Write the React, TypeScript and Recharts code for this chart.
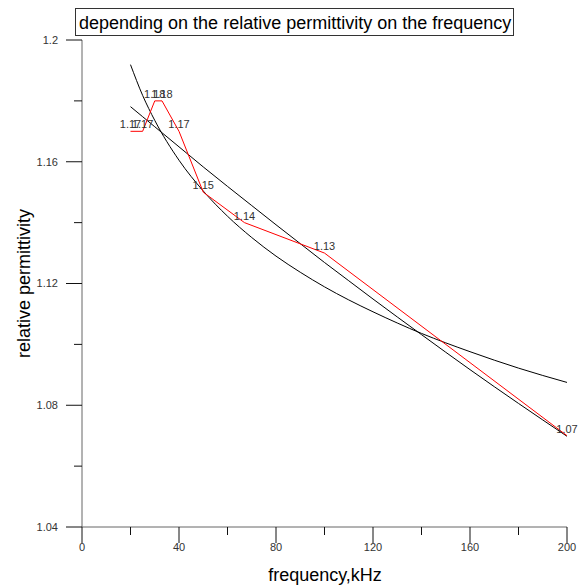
import React from "react";
import { LineChart, Line, XAxis, YAxis, LabelList } from "recharts";

// measured points (red polyline)
const measuredFreq = [20, 25, 30, 33, 40, 50, 67, 100, 200];
const measuredEps = [1.17, 1.17, 1.18, 1.18, 1.17, 1.15, 1.14, 1.13, 1.07];

// fitted curves (black)
const fitFreq = [20, 25, 30, 40, 50, 60, 70, 80, 90, 100, 110, 120, 140, 160, 180, 200];
const logFitEps = [
  1.1919, 1.1818, 1.1736, 1.1605, 1.1504, 1.1421, 1.1351, 1.129, 1.1237, 1.1189, 1.1146,
  1.1107, 1.1036, 1.0976, 1.0922, 1.0875,
];
const polyFitEps = [
  1.1781, 1.1748, 1.1715, 1.1649, 1.1583, 1.1519, 1.1456, 1.1393, 1.1331, 1.1269, 1.1209,
  1.1149, 1.1032, 1.0917, 1.0806, 1.0698,
];

const xTicks = [0, 20, 40, 60, 80, 100, 120, 140, 160, 180, 200];
const yTicks = [1.04, 1.06, 1.08, 1.1, 1.12, 1.14, 1.16, 1.18, 1.2];

const measured = measuredFreq.map((f, i) => ({ x: f, y: measuredEps[i] }));
const logFit = fitFreq.map((f, i) => ({ x: f, y: logFitEps[i] }));
const polyFit = fitFreq.map((f, i) => ({ x: f, y: polyFitEps[i] }));

const FONT = "Arial, 'Liberation Sans', sans-serif";

// major ticks every 40 get a label and a longer mark
function XTick(props: any) {
  const { x, y, payload } = props;
  const major = payload.value % 40 === 0;
  return (
    <g>
      <line x1={x} x2={x} y1={y} y2={y + (major ? 16 : 8)} stroke="#111" />
      {major && (
        <text x={x} y={y + 20} dy="0.35em" textAnchor="middle" fontSize={11} fill="#333" fontFamily={FONT}>
          {payload.value}
        </text>
      )}
    </g>
  );
}

function YTick(props: any) {
  const { x, y, payload } = props;
  const major = Math.round(payload.value * 100) % 4 === 0;
  return (
    <g>
      <line x1={x - (major ? 16 : 8)} x2={x} y1={y} y2={y} stroke="#111" />
      {major && (
        <text x={x - 24} y={y} dy="0.35em" textAnchor="end" fontSize={11} fill="#333" fontFamily={FONT}>
          {String(payload.value)}
        </text>
      )}
    </g>
  );
}

function PointLabel(props: any) {
  const { x, y, value } = props;
  return (
    <text x={x} y={y - 3} textAnchor="middle" fontSize={11} fill="#333" fontFamily={FONT}>
      {Number(value).toFixed(2)}
    </text>
  );
}

export default function App() {
  return (
    <div style={{ position: "absolute", left: 0, top: 0, width: 579, height: 585, background: "#fff" }}>
      <LineChart width={579} height={585} margin={{ top: 40, right: 12, left: 0, bottom: 0 }}>
        <XAxis
          type="number"
          dataKey="x"
          domain={[0, 200]}
          ticks={xTicks}
          interval={0}
          height={58}
          tickSize={0}
          tickMargin={0}
          tickLine={false}
          tick={<XTick />}
          axisLine={{ stroke: "#666" }}
          allowDataOverflow
        />
        <YAxis
          type="number"
          dataKey="y"
          domain={[1.04, 1.2]}
          ticks={yTicks}
          interval={0}
          width={82}
          tickSize={0}
          tickMargin={0}
          tickLine={false}
          tick={<YTick />}
          axisLine={{ stroke: "#666" }}
          allowDataOverflow
        />
        <Line data={logFit} dataKey="y" type="monotone" stroke="#000" strokeWidth={1} dot={false} isAnimationActive={false} />
        <Line data={polyFit} dataKey="y" type="monotone" stroke="#000" strokeWidth={1} dot={false} isAnimationActive={false} />
        <Line data={measured} dataKey="y" type="linear" stroke="#ff0000" strokeWidth={1} dot={false} isAnimationActive={false}>
          <LabelList dataKey="y" content={<PointLabel />} />
        </Line>
      </LineChart>
      <svg width={579} height={585} style={{ position: "absolute", left: 0, top: 0, pointerEvents: "none" }}>
        <rect x={75.5} y={8.5} width={438} height={27} fill="#fff" stroke="#333" />
        <text x={79} y={29} fontSize={18} fill="#000" fontFamily={FONT}>
          depending on the relative permittivity on the frequency
        </text>
        <text x={325} y={581} textAnchor="middle" fontSize={18} fill="#000" fontFamily={FONT}>
          frequency,kHz
        </text>
        <text
          x={30}
          y={283.5}
          textAnchor="middle"
          fontSize={18}
          fill="#000"
          fontFamily={FONT}
          transform="rotate(-90, 30, 283.5)"
        >
          relative permittivity
        </text>
      </svg>
    </div>
  );
}
